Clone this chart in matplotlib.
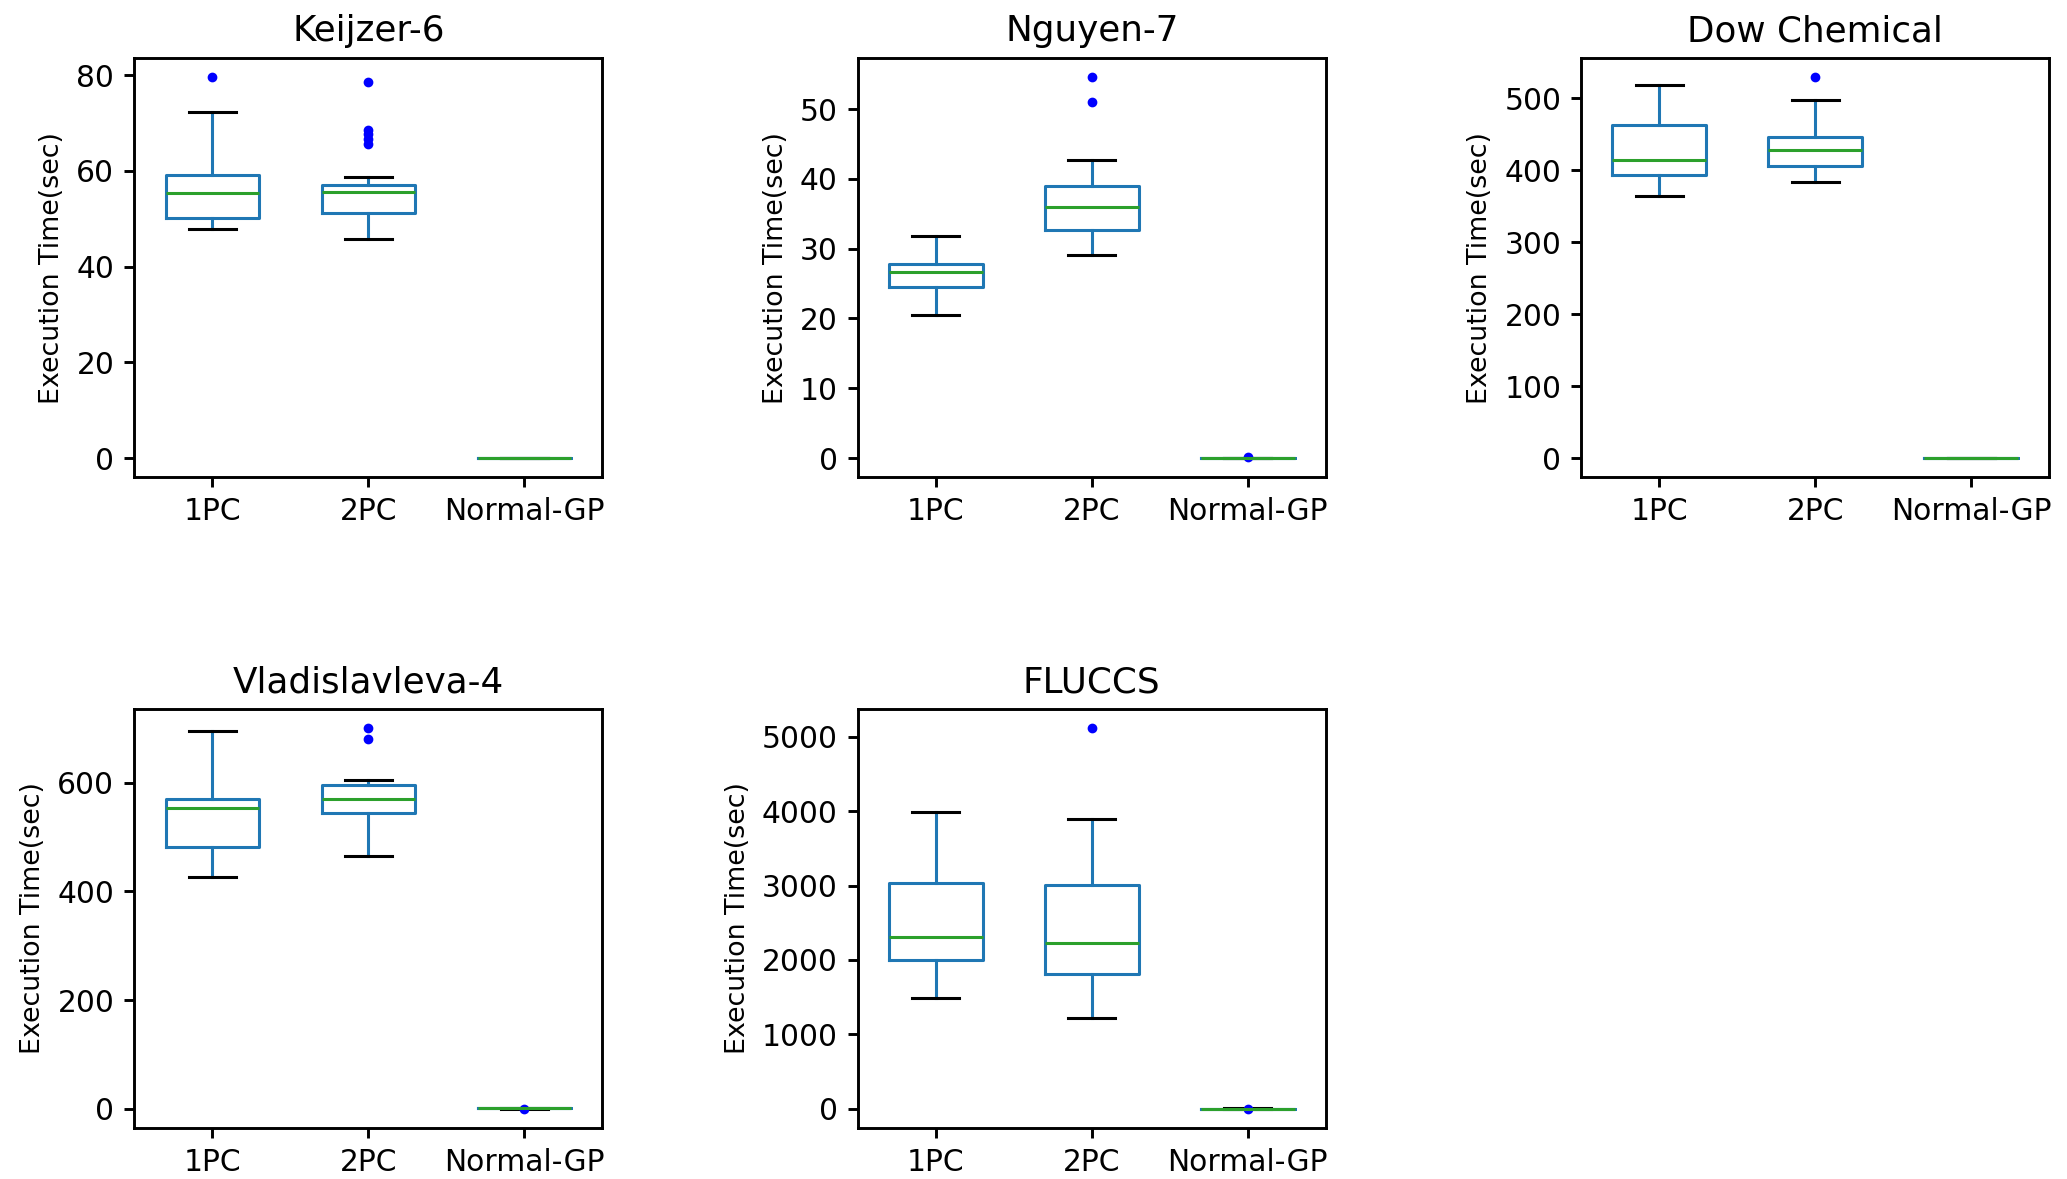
import numpy as np
import matplotlib
matplotlib.use('Agg')
import matplotlib.pyplot as plt

# box summaries: (whislo, q1, med, q3, whishi, fliers)
methods = ['1PC', '2PC', 'Normal-GP']
titles = ['Keijzer-6', 'Nguyen-7', 'Dow Chemical', 'Vladislavleva-4', 'FLUCCS']

keijzer = [
    (47.8, 50.2, 55.3, 59.1, 72.2, [79.6]),
    (45.7, 51.3, 55.5, 57.1, 58.8, [78.5, 68.6, 67.6, 66.6, 65.7]),
    (0.02, 0.03, 0.04, 0.05, 0.07, []),
]
nguyen = [
    (20.5, 24.5, 26.7, 27.8, 31.8, []),
    (29.1, 32.7, 36.0, 39.0, 42.7, [54.6, 51.0]),
    (0.01, 0.02, 0.03, 0.04, 0.05, [0.15]),
]
dow = [
    (364.0, 393.6, 414.1, 462.3, 518.6, []),
    (383.1, 405.5, 428.4, 446.1, 497.6, [529.1]),
    (0.1, 0.2, 0.3, 0.4, 0.6, []),
]
vlad = [
    (427.1, 482.6, 554.0, 571.0, 695.9, []),
    (465.6, 543.8, 570.3, 596.8, 605.7, [701.0, 680.8]),
    (0.2, 0.4, 0.6, 0.8, 1.2, [-0.5]),
]
fluccs = [
    (1492, 2003, 2311, 3038, 3982, []),
    (1215, 1809, 2224, 3006, 3890, [5115]),
    (1.0, 2.0, 3.0, 4.0, 6.0, [0.5]),
]
datasets = [keijzer, nguyen, dow, vlad, fluccs]

plt.rcParams['font.size'] = 10.7
plt.rcParams['axes.linewidth'] = 1.05
plt.rcParams['xtick.major.width'] = 1.05
plt.rcParams['ytick.major.width'] = 1.05
plt.rcParams['xtick.major.size'] = 3.7
plt.rcParams['ytick.major.size'] = 3.7

fig = plt.figure(figsize=(10.335, 5.895), dpi=200)

axLeft = [0.065, 0.415, 0.765]
axW = 0.2264
axH = 0.3554
axBottom = [0.5954, 0.0433]

lw = 1.1
for i, (title, rows) in enumerate(zip(titles, datasets)):
    r, c = divmod(i, 3)
    ax = fig.add_axes([axLeft[c], axBottom[r], axW, axH])
    stats = []
    for name, row in zip(methods, rows):
        stats.append(dict(label=name, whislo=row[0], q1=row[1], med=row[2],
                          q3=row[3], whishi=row[4], fliers=row[5]))
    ax.bxp(stats, widths=0.6,
           boxprops=dict(color='#1f77b4', linewidth=lw),
           whiskerprops=dict(color='#1f77b4', linewidth=lw),
           capprops=dict(color='k', linewidth=lw),
           medianprops=dict(color='#2ca02c', linewidth=lw),
           flierprops=dict(marker='.', markerfacecolor='b', markeredgecolor='b',
                           markersize=5, linestyle='none'))
    ax.set_title(title, fontsize=12.9)
    ax.set_ylabel('Execution Time(sec)', fontsize=9.7)

fig.savefig('out.png', dpi=200)
